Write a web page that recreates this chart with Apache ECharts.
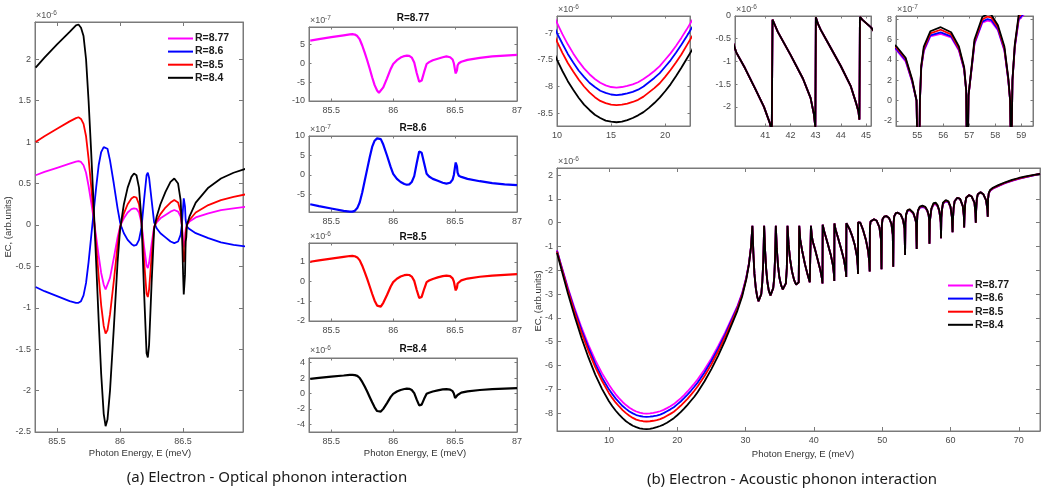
<!DOCTYPE html>
<html>
<head>
<meta charset="utf-8">
<script src="https://cdn.jsdelivr.net/npm/echarts@6/dist/echarts.min.js"></script>
<style>
  html, body { margin: 0; background: #fff; }
  #chart { width: 1041px; height: 491px; }
</style>
</head>
<body>
<div id="chart"></div>
<script>
const names = ['R=8.77', 'R=8.6', 'R=8.5', 'R=8.4']
const colors = ['#ff00ff', '#0000ff', '#ff0000', '#000000']

// (a) optical phonon: photon energy (meV) and EC (x1e-6)
const optE = [85.33, 85.4, 85.5, 85.6, 85.65, 85.67, 85.69, 85.71, 85.73, 85.75, 85.77, 85.79, 85.81, 85.83, 85.85, 85.87, 85.885, 85.9, 85.92, 85.95, 85.98, 86.0, 86.01, 86.03, 86.06, 86.09, 86.11, 86.13, 86.15, 86.17, 86.19, 86.21, 86.22, 86.23, 86.25, 86.27, 86.29, 86.32, 86.36, 86.4, 86.43, 86.46, 86.48, 86.49, 86.5, 86.505, 86.515, 86.52, 86.525, 86.53, 86.55, 86.6, 86.7, 86.8, 86.9, 87.0]
const optM = [0.6, 0.64, 0.69, 0.74, 0.765, 0.77, 0.76, 0.72, 0.63, 0.47, 0.28, 0.08, -0.14, -0.37, -0.58, -0.72, -0.78, -0.76, -0.64, -0.4, -0.15, -0.02, 0.02, 0.08, 0.15, 0.19, 0.2, 0.195, 0.15, 0.02, -0.26, -0.49, -0.52, -0.46, -0.23, -0.02, 0.03, 0.08, 0.12, 0.16, 0.18, 0.16, 0.1, 0.0, -0.19, -0.27, -0.19, -0.06, -0.05, 0.0, 0.04, 0.09, 0.14, 0.18, 0.2, 0.22]
const optB = [-0.75, -0.8, -0.86, -0.92, -0.94, -0.94, -0.92, -0.85, -0.7, -0.45, -0.15, 0.15, 0.45, 0.72, 0.88, 0.94, 0.95, 0.92, 0.78, 0.5, 0.2, 0.03, -0.02, -0.1, -0.18, -0.23, -0.25, -0.24, -0.18, -0.03, 0.3, 0.6, 0.63, 0.57, 0.3, 0.03, -0.04, -0.1, -0.15, -0.2, -0.22, -0.2, -0.12, 0.0, 0.22, 0.32, 0.22, 0.06, 0.06, -0.02, -0.05, -0.1, -0.16, -0.21, -0.24, -0.26]
const optR = [1.0, 1.07, 1.16, 1.25, 1.29, 1.3, 1.28, 1.22, 1.07, 0.8, 0.48, 0.13, -0.24, -0.62, -0.97, -1.22, -1.31, -1.27, -1.08, -0.68, -0.25, -0.03, 0.03, 0.14, 0.25, 0.32, 0.34, 0.33, 0.25, 0.03, -0.43, -0.83, -0.87, -0.78, -0.38, -0.03, 0.05, 0.13, 0.21, 0.27, 0.3, 0.27, 0.16, 0.0, -0.32, -0.45, -0.32, -0.1, -0.08, 0.0, 0.06, 0.15, 0.24, 0.3, 0.34, 0.37]
const optK = [1.9, 2.02, 2.18, 2.33, 2.41, 2.42, 2.38, 2.28, 2.0, 1.5, 0.9, 0.25, -0.45, -1.15, -1.8, -2.28, -2.43, -2.35, -2.0, -1.25, -0.45, -0.05, 0.05, 0.25, 0.45, 0.58, 0.62, 0.6, 0.45, 0.05, -0.8, -1.55, -1.6, -1.45, -0.7, -0.05, 0.1, 0.25, 0.4, 0.52, 0.56, 0.5, 0.3, 0.0, -0.6, -0.84, -0.6, -0.2, -0.15, 0.0, 0.1, 0.27, 0.45, 0.56, 0.63, 0.68]

// (b) acoustic phonon: photon energy (meV) and EC (x1e-6)
const acBowlE = [2.4, 3, 4, 5, 6, 7, 8, 9, 10, 10.5, 11, 11.5, 12, 12.5, 13, 13.5, 14, 14.5, 15, 15.5, 16, 16.5, 17, 17.5, 18, 18.5, 19, 19.5, 20, 20.5, 21, 21.5, 22, 22.5, 23, 24, 25, 26, 27, 28, 28.8, 29.5, 30.1, 30.5, 30.8]
const acBowlM = [-1.16, -1.77, -2.73, -3.61, -4.41, -5.13, -5.77, -6.33, -6.81, -7.02, -7.21, -7.38, -7.53, -7.66, -7.77, -7.86, -7.93, -7.98, -8.01, -8.02, -8.01, -7.99, -7.96, -7.92, -7.86, -7.79, -7.71, -7.62, -7.50, -7.38, -7.24, -7.09, -6.93, -6.76, -6.58, -6.17, -5.70, -5.18, -4.62, -4.00, -3.50, -2.95, -2.30, -1.70, -1.00]
const acBowlB = [-1.18, -1.80, -2.78, -3.69, -4.51, -5.25, -5.93, -6.51, -7.00, -7.20, -7.39, -7.55, -7.70, -7.82, -7.93, -8.01, -8.08, -8.12, -8.15, -8.16, -8.15, -8.13, -8.10, -8.06, -8.00, -7.92, -7.84, -7.75, -7.63, -7.51, -7.37, -7.22, -7.06, -6.89, -6.71, -6.29, -5.81, -5.28, -4.70, -4.06, -3.55, -2.99, -2.32, -1.71, -1.00]
const acBowlR = [-1.21, -1.84, -2.85, -3.78, -4.63, -5.39, -6.07, -6.65, -7.16, -7.37, -7.56, -7.72, -7.87, -8.00, -8.11, -8.20, -8.27, -8.31, -8.34, -8.35, -8.34, -8.32, -8.29, -8.25, -8.19, -8.11, -8.03, -7.94, -7.82, -7.69, -7.55, -7.40, -7.23, -7.06, -6.87, -6.44, -5.95, -5.40, -4.80, -4.14, -3.61, -3.03, -2.35, -1.73, -1.01]
const acBowlK = [-1.26, -1.91, -2.97, -3.95, -4.85, -5.66, -6.38, -6.99, -7.50, -7.71, -7.90, -8.06, -8.21, -8.34, -8.44, -8.53, -8.59, -8.64, -8.66, -8.67, -8.66, -8.63, -8.59, -8.54, -8.48, -8.40, -8.31, -8.21, -8.09, -7.96, -7.81, -7.65, -7.48, -7.31, -7.11, -6.66, -6.15, -5.58, -4.95, -4.26, -3.70, -3.10, -2.39, -1.75, -1.02]

// resonance teeth, the four curves coincide here
const teethA = [
  [31.0, -0.13], [31.15, -1.3], [31.3, -2.15], [31.5, -2.75], [31.7, -3.1], [31.9, -3.3], [32.1, -3.25], [32.3, -3.0], [32.45, -2.5], [32.6, -1.6], [32.72, -0.13],
  [32.87, -1.2], [33.02, -1.95], [33.2, -2.5], [33.4, -2.85], [33.65, -3.05], [33.85, -3.0], [34.05, -2.75], [34.2, -2.3], [34.33, -1.4], [34.43, -0.13],
  [34.58, -1.1], [34.75, -1.8], [34.95, -2.3], [35.2, -2.62], [35.45, -2.8], [35.7, -2.78], [35.9, -2.55], [36.04, -1.9], [36.14, -0.13],
  [36.3, -0.9], [36.5, -1.5], [36.8, -2.05], [37.1, -2.4], [37.4, -2.6], [37.65, -2.68], [37.78, -2.5], [37.86, -0.13],
  [38.0, -0.7], [38.3, -1.2], [38.7, -1.75], [39.1, -2.2], [39.4, -2.5], [39.53, -2.58], [39.57, -0.13],
  [39.7, -0.55], [39.85, -0.8], [40.2, -1.15], [40.6, -1.6], [40.95, -2.0], [41.18, -2.35], [41.26, -2.55], [41.29, -0.08],
  [41.4, -0.22], [41.5, -0.35], [42.0, -0.85], [42.5, -1.38], [42.8, -1.8], [42.93, -2.15], [42.99, -2.45], [43.01, -0.03],
  [43.1, -0.18], [43.2, -0.3], [43.5, -0.6], [44.0, -1.1], [44.4, -1.55], [44.6, -1.9], [44.7, -2.1], [44.74, -2.28], [44.76, -0.02],
  [44.85, -0.08], [45.2, -0.25], [45.6, -0.55], [46.0, -0.95], [46.3, -1.4], [46.42, -1.8], [46.46, -2.15], [46.48, 0.02],
  [46.6, 0.06], [46.8, 0.0], [47.2, -0.3], [47.6, -0.7], [47.95, -1.2], [48.12, -1.7], [48.17, -2.05], [48.2, -0.2], [48.3, 0.05],
  [48.5, 0.13], [48.8, 0.15], [49.2, 0.08], [49.6, -0.2], [49.82, -0.7], [49.9, -1.95], [49.95, -0.1], [50.05, 0.15],
  [50.3, 0.26], [50.6, 0.28], [51.0, 0.2], [51.35, -0.05], [51.55, -0.5], [51.62, -1.85], [51.67, 0.0], [51.77, 0.28],
  [52.0, 0.4], [52.3, 0.42], [52.7, 0.35], [53.05, 0.12], [53.27, -0.25], [53.35, -1.35]
]
// arches seen in the third inset, curves split slightly
const teethBE = [53.4, 53.5, 53.7, 54.0, 54.2, 54.55, 54.8, 54.97, 55.05, 55.1, 55.15, 55.25, 55.5, 55.9, 56.3, 56.6, 56.8, 56.88, 56.92, 56.97, 57.1, 57.2, 57.5, 57.7, 57.85, 58.1, 58.35, 58.5, 58.57, 58.61, 58.66, 58.75, 58.9, 59.3, 59.7, 60.0, 60.2, 60.3]
const teethBM = [0.0, 0.32, 0.49, 0.53, 0.495, 0.385, 0.185, 0.0, -1.1, 0.0, 0.315, 0.485, 0.63, 0.655, 0.62, 0.49, 0.305, 0.1, -0.88, 0.05, 0.335, 0.555, 0.765, 0.785, 0.775, 0.69, 0.49, 0.2, 0.0, -0.65, 0.2, 0.52, 0.79, 0.9, 0.85, 0.65, 0.25, -0.4]
const teethBB = [0.0, 0.33, 0.5, 0.54, 0.505, 0.395, 0.19, 0.0, -1.1, 0.0, 0.32, 0.495, 0.64, 0.67, 0.63, 0.5, 0.31, 0.1, -0.88, 0.05, 0.34, 0.565, 0.775, 0.8, 0.79, 0.7, 0.5, 0.2, 0.0, -0.65, 0.2, 0.53, 0.8, 0.91, 0.86, 0.66, 0.25, -0.4]
const teethBR = [0.0, 0.34, 0.51, 0.555, 0.52, 0.41, 0.2, 0.0, -1.1, 0.0, 0.33, 0.51, 0.66, 0.695, 0.65, 0.51, 0.32, 0.1, -0.88, 0.05, 0.35, 0.58, 0.795, 0.825, 0.815, 0.72, 0.51, 0.21, 0.0, -0.65, 0.2, 0.54, 0.82, 0.93, 0.88, 0.67, 0.25, -0.4]
const teethBK = [0.0, 0.35, 0.52, 0.57, 0.53, 0.42, 0.21, 0.0, -1.1, 0.0, 0.34, 0.53, 0.68, 0.72, 0.67, 0.53, 0.33, 0.1, -0.88, 0.05, 0.36, 0.6, 0.82, 0.85, 0.84, 0.74, 0.53, 0.22, 0.0, -0.65, 0.2, 0.55, 0.84, 0.95, 0.9, 0.68, 0.25, -0.4]
const teethC = [
  [60.35, 0.1], [60.45, 0.6], [60.6, 0.9], [61.0, 1.05], [61.4, 1.0], [61.8, 0.7], [61.95, 0.3], [62.0, -0.2],
  [62.05, 0.3], [62.15, 0.8], [62.3, 1.05], [62.7, 1.16], [63.1, 1.1], [63.5, 0.85], [63.65, 0.4], [63.7, 0.0],
  [63.75, 0.5], [63.85, 1.0], [64.0, 1.2], [64.4, 1.28], [64.8, 1.2], [65.2, 0.95], [65.4, 0.55], [65.45, 0.25]
]
const tailE = [65.5, 65.6, 65.8, 66.2, 67, 68, 69, 70, 71, 72, 73.1]
const tailM = [1.0, 1.22, 1.34, 1.43, 1.54, 1.66, 1.76, 1.84, 1.92, 1.98, 2.06]
const tailB = [1.0, 1.23, 1.35, 1.44, 1.55, 1.67, 1.77, 1.85, 1.92, 1.98, 2.05]
const tailR = [1.0, 1.24, 1.36, 1.45, 1.56, 1.68, 1.78, 1.86, 1.93, 1.99, 2.05]
const tailK = [1.0, 1.25, 1.38, 1.47, 1.58, 1.70, 1.80, 1.88, 1.95, 2.00, 2.05]

const zip = (xs, ys) => xs.map((x, i) => [x, ys[i]])
const optical = [optM, optB, optR, optK].map(ys => zip(optE, ys))
const acoustic = [
  [acBowlM, teethBM, tailM],
  [acBowlB, teethBB, tailB],
  [acBowlR, teethBR, tailR],
  [acBowlK, teethBK, tailK]
].map(([bowl, mid, tail]) =>
  [].concat(zip(acBowlE, bowl), teethA, zip(teethBE, mid), teethC, zip(tailE, tail)))

const font = 'Liberation Sans, Arial, Helvetica, sans-serif'
const axisGray = '#7a7a7a'
const labelGray = '#4a4a4a'
const x10 = v => String(Math.round(v * 10))

const grid = [], xAxis = [], yAxis = [], series = []

// one MATLAB style box: ticks inside on all four sides
function addPanel(box, xr, xticks, yr, yticks, yfmt, tickLen) {
  const g = grid.length
  grid.push({ left: box[0], top: box[1], width: box[2], height: box[3], show: true, borderColor: axisGray, borderWidth: 1 })
  ;['bottom', 'top'].forEach(pos => xAxis.push({
    type: 'value', gridIndex: g, position: pos, min: xr[0], max: xr[1],
    axisLine: { show: true, onZero: false, lineStyle: { color: axisGray, width: 1 } },
    axisTick: { show: true, inside: true, length: tickLen, customValues: xticks, lineStyle: { color: axisGray } },
    axisLabel: { show: pos === 'bottom', customValues: xticks, margin: 5, color: labelGray, fontSize: 9, fontFamily: font },
    splitLine: { show: false }
  }))
  ;['left', 'right'].forEach(pos => yAxis.push({
    type: 'value', gridIndex: g, position: pos, min: yr[0], max: yr[1],
    axisLine: { show: true, onZero: false, lineStyle: { color: axisGray, width: 1 } },
    axisTick: { show: true, inside: true, length: tickLen, customValues: yticks, lineStyle: { color: axisGray } },
    axisLabel: { show: pos === 'left', customValues: yticks, margin: 4, color: labelGray, fontSize: 9, fontFamily: font, formatter: yfmt },
    splitLine: { show: false }
  }))
  return g
}

function addLine(g, i, data, width) {
  series.push({
    type: 'line', name: names[i], xAxisIndex: 2 * g, yAxisIndex: 2 * g, data,
    symbol: 'none', showSymbol: false, clip: true, silent: true,
    lineStyle: { color: colors[i], width }, itemStyle: { color: colors[i] }
  })
}

const smallX = [85.5, 86, 86.5, 87]

const gLeft = addPanel([35, 22, 208, 410], [85.325, 86.975], [85.5, 86, 86.5], [-2.5, 2.45],
  [-2.5, -2, -1.5, -1, -0.5, 0, 0.5, 1, 1.5, 2], undefined, 4)
const gS1 = addPanel([309, 27, 208, 74], [85.32, 87], smallX, [-1, 0.96], [-1, -0.5, 0, 0.5], x10, 2.5)
const gS2 = addPanel([309, 136, 208, 76], [85.32, 87], smallX, [-0.95, 1], [-0.5, 0, 0.5, 1], x10, 2.5)
const gS3 = addPanel([309, 243, 208, 78], [85.32, 87], smallX, [-2, 1.95], [-2, -1, 0, 1], undefined, 2.5)
const gS4 = addPanel([309, 358, 208, 74], [85.32, 87], smallX, [-5, 4.6], [-4, -2, 0, 2, 4], undefined, 2.5)
const gI1 = addPanel([557, 16, 133, 110], [10, 22.3], [10, 15, 20], [-8.74, -6.68], [-8.5, -8, -7.5, -7], undefined, 2.5)
const gI2 = addPanel([735, 16, 136, 110], [39.8, 45.2], [41, 42, 43, 44, 45], [-2.42, 0], [-2, -1.5, -1, -0.5, 0], undefined, 2.5)
const gI3 = addPanel([896, 16, 137, 110], [54.18, 59.45], [55, 56, 57, 58, 59], [-0.25, 0.83], [-0.2, 0, 0.2, 0.4, 0.6, 0.8], x10, 2.5)
const gMain = addPanel([557, 168, 483, 263], [2.4, 73.1], [10, 20, 30, 40, 50, 60, 70], [-8.75, 2.3],
  [-8, -7, -6, -5, -4, -3, -2, -1, 0, 1, 2], undefined, 4)

for (let i = 0; i < 4; i++) addLine(gLeft, i, optical[i], 1.8)
addLine(gS1, 0, optical[0], 2.2)
addLine(gS2, 1, optical[1], 2.2)
addLine(gS3, 2, optical[2], 2.2)
addLine(gS4, 3, optical[3], 2.2)
for (const g of [gI1, gI2, gI3, gMain]) {
  for (let i = 0; i < 4; i++) addLine(g, i, acoustic[i], 1.8)
}

// texts around the axes
const txt = (x, y, text, size, extra) => Object.assign({
  type: 'text', x, y, silent: true,
  style: Object.assign({ text, fontSize: size, fontFamily: font, fill: '#333', align: 'center', verticalAlign: 'middle', textAlign: 'center', textVerticalAlign: 'middle' }, extra || {})
})
const expo = (x, y, p) => [
  txt(x, y, '×10', 9, { fill: '#555', align: 'left', textAlign: 'left' }),
  txt(x + 15, y - 3, p, 6.5, { fill: '#555', align: 'left', textAlign: 'left' })
]
const bold = { fontWeight: 'bold', fill: '#111' }

const graphic = [].concat(
  expo(36, 16, '-6'), expo(310, 21, '-7'), expo(310, 130, '-7'), expo(310, 237, '-6'), expo(310, 351, '-6'),
  expo(558, 10, '-6'), expo(736, 10, '-6'), expo(897, 10, '-7'), expo(558, 162, '-6'),
  [
    txt(413, 18, 'R=8.77', 10, bold), txt(413, 128, 'R=8.6', 10, bold),
    txt(413, 237, 'R=8.5', 10, bold), txt(413, 349, 'R=8.4', 10, bold),
    txt(140, 453, 'Photon Energy, E (meV)', 9.5), txt(415, 453, 'Photon Energy, E (meV)', 9.5),
    txt(803, 454, 'Photon Energy, E (meV)', 9.5),
    Object.assign(txt(8, 227, 'EC, (arb.units)', 9.5), { rotation: Math.PI / 2 }),
    Object.assign(txt(538, 301, 'EC, (arb.units)', 9.5), { rotation: Math.PI / 2 }),
    txt(267, 478, '(a) Electron - Optical phonon interaction', 15, { fontFamily: 'Noto Sans, DejaVu Sans, sans-serif', fill: '#1a1a1a' }),
    txt(792, 480, '(b) Electron - Acoustic phonon interaction', 15, { fontFamily: 'Noto Sans, DejaVu Sans, sans-serif', fill: '#1a1a1a' })
  ]
)

const legendBase = {
  data: names, orient: 'vertical', icon: 'rect', itemWidth: 25, itemHeight: 2, itemGap: 2.1, padding: 0,
  selectedMode: false, textStyle: { fontFamily: font, fontWeight: 'bold', fontSize: 10.5, color: '#1a1a1a', padding: [0, 0, 0, -3] }
}

const chart = echarts.init(document.getElementById('chart'))
chart.setOption({
  animation: false,
  backgroundColor: '#fff',
  grid, xAxis, yAxis, series, graphic,
  legend: [
    Object.assign({ left: 168, top: 33 }, legendBase),
    Object.assign({ left: 948, top: 280 }, legendBase)
  ]
})
window.onresize = function () {
  chart.resize()
}
</script>
</body>
</html>
